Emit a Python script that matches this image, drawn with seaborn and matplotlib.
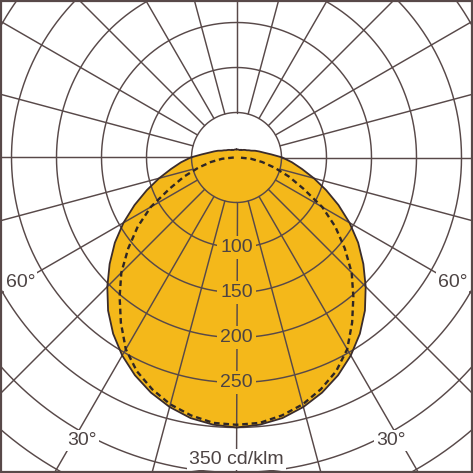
import numpy as np
import matplotlib
matplotlib.use("Agg")
import matplotlib.pyplot as plt
import seaborn as sns

# -----------------------------
# DATA (cd/klm, angle from nadir in degrees)
# -----------------------------
angles_c0 = [0, 5, 10, 15, 20, 25, 30, 35, 40, 45, 50, 55, 60, 65, 70, 75, 80, 85, 90,
             95, 100, 105, 110, 115, 120, 125, 130, 135, 140, 145, 150, 155, 160, 165, 170, 175, 180]
cd_c0 = [300, 298, 294, 287, 278, 267, 254, 239, 222, 203, 184, 165, 145, 125, 106, 89, 74, 62, 51,
         39, 31, 26, 22, 18, 16, 14, 13, 12, 11, 10, 10, 9, 9, 9, 9, 9, 9]

angles_c90 = [0, 5, 10, 15, 20, 25, 30, 35, 40, 45, 50, 55, 60, 65, 70, 75, 80, 85, 90]
cd_c90 = [297, 296, 291, 284, 274, 262, 246, 224, 202, 181, 157, 134, 110, 82, 62, 44, 29, 16, 3]

ring_values = [50, 100, 150, 200, 250, 300, 350, 400, 450]
ring_labels = ["100", "150", "200", "250"]
unit_label = "350 cd/klm"
angle_labels = ["60°", "30°"]

# -----------------------------
# STYLE
# -----------------------------
sns.set_theme(style="white")
plt.rcParams["font.family"] = ["Liberation Sans", "DejaVu Sans"]

ORANGE = "#f4b81a"
GRID = "#584949"
TEXT = "#4d4444"
FS = 14

W = 473
fig = plt.figure(figsize=(W / 100, W / 100), dpi=100)
fig.patch.set_facecolor("white")

# polar axes bigger than the figure, origin at (236.5, 157.5) px
rmax = 500
rad_px = 450
ox, oy = 236.5 / W, (W - 157.5) / W
ax = fig.add_axes([ox - rad_px / W, oy - rad_px / W, 2 * rad_px / W, 2 * rad_px / W],
                  projection="polar")
ax.set_theta_zero_location("S")
ax.set_ylim(0, rmax)
ax.grid(False)
ax.set_xticks([])
ax.set_yticks([])
ax.spines["polar"].set_visible(False)
ax.patch.set_alpha(0)


def mirror(angles, values):
    a = np.array(angles, dtype=float)
    v = np.array(values, dtype=float)
    th = np.deg2rad(np.concatenate([-a[::-1], a[1:]]))
    r = np.concatenate([v[::-1], v[1:]])
    return th, r


th0, r0 = mirror(angles_c0, cd_c0)
th90, r90 = mirror(angles_c90, cd_c90)

# filled C0-C180 curve
ax.fill(th0, r0, facecolor=ORANGE, edgecolor="none", zorder=1)

# grid
circ = np.linspace(0, 2 * np.pi, 721)
for rv in ring_values:
    ax.plot(circ, np.full_like(circ, rv), color=GRID, lw=1.05, zorder=2)
for a in range(0, 360, 15):
    t = np.deg2rad(a)
    ax.plot([t, t], [50, rmax], color=GRID, lw=1.05, zorder=2)

# curves
sns.lineplot(x=th0, y=r0, ax=ax, sort=False, estimator=None,
             color="#3a2c2c", lw=1.3, zorder=3)
ax.plot(th90, r90, color="#2e2626", lw=1.7, ls=(0, (2.4, 1.6)), zorder=3)

# ring labels along nadir
for txt in ring_labels:
    ax.text(0, float(txt), txt, ha="center", va="center", fontsize=FS, color=TEXT,
            zorder=5, bbox=dict(boxstyle="square,pad=0.15", fc=ORANGE, ec="none"))
ax.text(0, 336, unit_label, ha="center", va="center", fontsize=FS, color=TEXT,
        zorder=5, bbox=dict(boxstyle="square,pad=0.1", fc="white", ec="none"))

# angle labels
for sgn in (-1, 1):
    ax.text(np.deg2rad(sgn * 60), 277, angle_labels[0], ha="center", va="center",
            fontsize=FS, color=TEXT, zorder=5,
            bbox=dict(boxstyle="square,pad=0.1", fc="white", ec="none"))
    ax.text(np.deg2rad(sgn * 28.6), 358, angle_labels[1], ha="center", va="center",
            fontsize=FS, color=TEXT, zorder=5,
            bbox=dict(boxstyle="square,pad=0.1", fc="white", ec="none"))

# frame
fig.add_artist(plt.Rectangle((1 / W, 1 / W), 471 / W, 471 / W, transform=fig.transFigure,
                             fill=False, lw=1.6, ec=GRID, zorder=10))

fig.savefig("out.png", dpi=100)
